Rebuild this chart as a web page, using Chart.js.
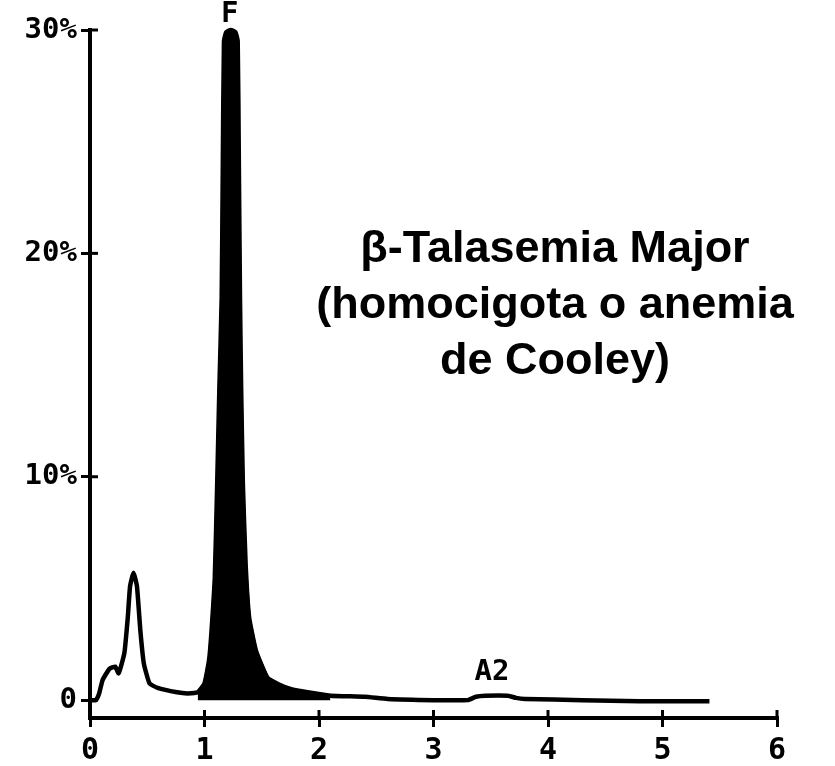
<!DOCTYPE html>
<html>
<head>
<meta charset="utf-8">
<script src="https://cdn.jsdelivr.net/npm/chart.js@4/dist/chart.umd.min.js"></script>
<style>
  body { margin: 0; background: #fff; }
  canvas { display: block; }
</style>
</head>
<body>
<canvas id="myChart" width="835" height="766"></canvas>
<script>
// retention time (min) and % of total
const traceX = [0, 0.05, 0.08, 0.11, 0.17, 0.22, 0.25, 0.30, 0.33, 0.35, 0.38, 0.41, 0.44, 0.47, 0.52, 0.59, 0.76, 0.85,
  0.94, 1.00, 1.04, 1.06, 1.09, 1.11, 1.13, 1.15, 1.16, 1.17, 1.19, 1.23, 1.27, 1.29, 1.30, 1.31, 1.32, 1.335, 1.36, 1.39,
  1.45, 1.55, 1.65, 1.75, 1.9, 2.1, 2.4, 2.6, 3.0, 3.3, 3.37, 3.45, 3.65, 3.72, 3.8, 4.3, 4.8, 5.41];
const traceY = [0, 0, 0.3, 0.9, 1.4, 1.5, 1.2, 2.1, 3.7, 5.1, 5.7, 5.1, 3.1, 1.65, 0.75, 0.55, 0.35, 0.3,
  0.35, 0.75, 1.8, 3.0, 5.5, 9.5, 14, 18, 24, 29.5, 29.9, 30.0, 29.9, 29.5, 24, 18, 14, 9.7, 6, 3.7,
  2.2, 1.0, 0.7, 0.5, 0.35, 0.2, 0.15, 0.05, 0, 0, 0.15, 0.2, 0.2, 0.1, 0.05, 0, -0.05, -0.05];

// span of the F peak that is shaded black
const peakFrom = 0.94;
const peakTo = 2.1;

const xTicks = [0, 1, 2, 3, 4, 5, 6];
const yTicks = [0, 10, 20, 30];
const yTickLabels = ["0", "10%", "20%", "30%"];

const peakNames = ["F", "A2"];
const peakNameX = [1.22, 3.51];
const peakNameY = [30.7, 1.25];

const titleLines = ["\u03B2-Talasemia Major", "(homocigota o anemia", "de Cooley)"];

const tracePoints = traceX.map((x, i) => ({ x: x, y: traceY[i] }));
const peakPoints = tracePoints.filter(p => p.x >= peakFrom && p.x <= peakTo);

const printFont = "bold 29px 'DejaVu Sans Mono'";

// small tick marks on the inside of the axes + labels on the chart
const extras = {
  id: "extras",
  afterDraw(chart) {
    const ctx = chart.ctx;
    const xs = chart.scales.x, ys = chart.scales.y;
    const a = chart.chartArea;
    ctx.save();
    ctx.strokeStyle = "#000";
    ctx.lineWidth = 3;
    yTicks.forEach(v => {
      const py = ys.getPixelForValue(v);
      ctx.beginPath();
      ctx.moveTo(a.left, py);
      ctx.lineTo(a.left + 8, py);
      ctx.stroke();
    });
    xTicks.forEach(v => {
      const px = xs.getPixelForValue(v);
      ctx.beginPath();
      ctx.moveTo(px, a.bottom);
      ctx.lineTo(px, a.bottom - 8);
      ctx.stroke();
    });

    ctx.fillStyle = "#000";
    ctx.font = printFont;
    ctx.textAlign = "center";
    ctx.textBaseline = "middle";
    peakNames.forEach((n, i) => {
      ctx.fillText(n, xs.getPixelForValue(peakNameX[i]), ys.getPixelForValue(peakNameY[i]));
    });

    ctx.font = "bold 45px 'Liberation Sans', Arial, sans-serif";
    ctx.textBaseline = "alphabetic";
    titleLines.forEach((t, i) => {
      ctx.fillText(t, 555, 262 + i * 56);
    });
    ctx.restore();
  }
};

Chart.register(extras);

const myChart = new Chart(document.getElementById("myChart").getContext("2d"), {
  type: "line",
  data: {
    datasets: [
      {
        data: peakPoints,
        borderColor: "#000",
        backgroundColor: "#000",
        borderWidth: 3,
        fill: "origin",
        pointRadius: 0,
        tension: 0,
        clip: false
      },
      {
        data: tracePoints,
        borderColor: "#000",
        borderWidth: 4.5,
        fill: false,
        pointRadius: 0,
        tension: 0.15,
        clip: false
      }
    ]
  },
  options: {
    responsive: false,
    animation: false,
    layout: { padding: { top: 30, right: 58, bottom: 0, left: 0 } },
    plugins: {
      legend: { display: false },
      tooltip: { enabled: false }
    },
    scales: {
      x: {
        type: "linear",
        min: 0,
        max: 6,
        afterFit: s => { s.height = 48; },
        afterBuildTicks: s => { s.ticks = xTicks.map(v => ({ value: v })); },
        border: { display: true, color: "#000", width: 4 },
        grid: { drawOnChartArea: false, drawTicks: true, tickLength: 9, color: "#000", lineWidth: 3 },
        ticks: { color: "#000", font: { family: "DejaVu Sans Mono", size: 30, weight: "bold" }, padding: 6, maxRotation: 0 }
      },
      y: {
        type: "linear",
        min: -0.8,
        max: 30,
        afterFit: s => { s.width = 90; },
        afterBuildTicks: s => { s.ticks = yTicks.map(v => ({ value: v })); },
        border: { display: true, color: "#000", width: 4 },
        grid: { drawOnChartArea: false, drawTicks: true, tickLength: 9, color: "#000", lineWidth: 3 },
        ticks: {
          color: "#000",
          font: { family: "DejaVu Sans Mono", size: 29, weight: "bold" },
          padding: 4,
          callback: v => yTickLabels[yTicks.indexOf(v)]
        }
      }
    }
  }
});
</script>
</body>
</html>
